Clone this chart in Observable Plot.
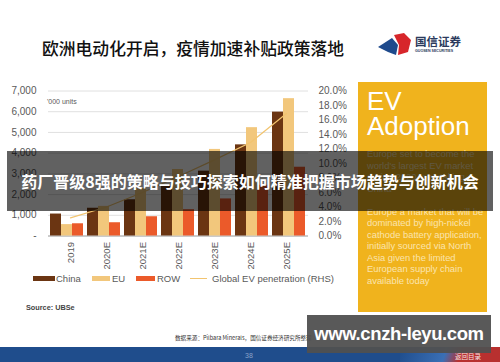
<!DOCTYPE html>
<html><head><meta charset="utf-8">
<script src="https://cdn.jsdelivr.net/npm/d3@7"></script>
<script src="https://cdn.jsdelivr.net/npm/@observablehq/plot@0.6"></script>
<style>
html,body{margin:0;padding:0;width:500px;height:362px;overflow:hidden;background:#fff;}
#slide{position:relative;width:500px;height:362px;font-family:"Liberation Sans",Arial,sans-serif;overflow:hidden;}
.abs{position:absolute;white-space:nowrap;}
#chart svg{position:absolute;left:0;top:0;}
.sw{position:absolute;height:5px;}
.lg{position:absolute;font-size:9.5px;color:#595959;line-height:12px;}
</style></head>
<body><div id="slide">
  <div class="abs" style="left:42px;top:37px;font-family:'Noto Sans CJK SC';font-weight:500;font-size:16.8px;line-height:22px;color:#111;">欧洲电动化开启，疫情加速补贴政策落地</div>
  <svg class="abs" style="left:376px;top:31px" width="40" height="28">
    <polygon points="2,16 16,7 22,14 20,24 12,21" fill="#1e4a8c"/>
    <polygon points="18,4 28,2 35,9 32,21 22,24 23,14" fill="#d7262b"/>
  </svg>
  <div class="abs" style="left:415px;top:34px;font-family:'Noto Sans CJK SC';font-weight:700;font-size:11.5px;line-height:15px;color:#2b3a5c;">国信证券</div>
  <div class="abs" style="left:415px;top:49px;font-size:3.6px;font-weight:bold;line-height:5px;color:#2b3a5c;">GUOSEN SECURITIES</div>

  <div id="chart" class="abs" style="left:0;top:80px;width:345px;height:190px;"></div>
  <div class="abs" style="left:47px;top:98px;font-size:7px;line-height:8px;color:#595959;">'000 units</div>

  <div class="sw" style="left:33px;top:276px;width:22px;background:#6b3512"></div>
  <div class="lg" style="left:56px;top:272.5px">China</div>
  <div class="sw" style="left:92px;top:276px;width:18px;background:#f2c77c"></div>
  <div class="lg" style="left:112px;top:272.5px">EU</div>
  <div class="sw" style="left:136px;top:276px;width:19px;background:#eb5a2a"></div>
  <div class="lg" style="left:157px;top:272.5px">ROW</div>
  <div class="abs" style="left:190px;top:278px;width:17px;height:1px;background:#f2c46f"></div>
  <div class="lg" style="left:212px;top:272.5px">Global EV penetration (RHS)</div>

  <div class="abs" style="left:26px;top:303px;font-size:7.3px;font-weight:bold;line-height:10px;color:#444;">Source: UBSe</div>

  <div class="abs" style="left:358px;top:82px;width:129px;height:230px;background:#f0b31d;"></div>
  <div class="abs" style="left:367px;top:88px;font-size:26px;line-height:26px;color:#fff;">EV</div>
  <div class="abs" style="left:367px;top:113px;font-size:26px;line-height:26px;color:#fff;">Adoption</div>
  <div class="abs" style="left:367px;top:148px;font-size:9.4px;line-height:11.5px;color:#fbe4ad;">Europe set to become the<br>world's largest EV market<br>during 2020, overtaking<br>China<br><br>Europe a market that will be<br>dominated by high-nickel<br>cathode battery application,<br>initially sourced via North<br>Asia given the limited<br>European supply chain<br>available today</div>

  <div class="abs" style="left:175px;top:334px;font-family:'Noto Sans CJK SC';font-size:5.6px;line-height:8px;color:#333;">数据来源：Pilbara Minerals，国信证券经济研究所整理</div>
  <div class="abs" style="left:0;top:347px;width:500px;height:15px;background:#1f4d8c;"></div>
  <div class="abs" style="left:400px;top:347px;width:100px;height:15px;background:linear-gradient(110deg,#1f4d8c 0%,#3a6fb5 45%,#b8302f 60%,#b8302f 100%);"></div>
  <div class="abs" style="left:245px;top:351px;font-size:7px;line-height:9px;color:#8aa3c9;">38</div>
  <div class="abs" style="left:455px;top:352px;font-family:'Noto Sans CJK SC';font-size:6.5px;line-height:9px;color:#f3e6e6;">返回目录</div>

  <div class="abs" style="left:7px;top:151px;width:486px;height:60px;background:rgba(0,0,0,0.62);"></div>
  <div class="abs" style="left:0;top:151px;width:500px;height:60px;line-height:60px;text-align:center;font-family:'Noto Sans CJK SC';font-weight:700;font-size:16px;color:#fff;">药厂晋级8强的策略与技巧探索如何精准把握市场趋势与创新机会</div>

  <div class="abs" style="left:307px;top:315px;width:184px;height:38px;background:rgba(80,80,80,0.95);"></div>
  <div class="abs" style="left:307px;top:315px;width:184px;height:38px;line-height:38px;text-align:center;font-weight:bold;font-size:18.5px;letter-spacing:-0.4px;color:#fff;">www.cnzh-leyu.com</div>
</div>
<script>
const years = ["2019","2020E","2021E","2022E","2023E","2024E","2025E"];
const seriesNames = ["China","EU","ROW"];
const china = [1060,1340,1750,2400,3130,4400,5980];
const eu = [550,1430,2300,3210,4180,5230,6630];
const row = [590,640,930,1270,1790,2450,3320];
const penetration = [2.5,4.0,6.0,8.2,10.5,12.9,16.9];
const unitTicks = [0,1000,2000,3000,4000,5000,6000,7000];
const pctTicks = [0,2,4,6,8,10,12,14,16,18,20];
const seriesColors = ["#6b3512","#f2c77c","#eb5a2a"];

const barData = years.flatMap((yr,i)=>[
  {year:yr, series:"China", value:china[i]},
  {year:yr, series:"EU", value:eu[i]},
  {year:yr, series:"ROW", value:row[i]}
]);
const lineData = years.map((yr,i)=>({year:yr, pct:penetration[i]}));

const common = {
  width:345, height:190, marginLeft:48, marginRight:37, marginTop:10.5, marginBottom:34.5,
  style:{fontFamily:'"Liberation Sans", Arial, sans-serif', fontSize:"10px", color:"#595959", background:"transparent", overflow:"visible"}
};
const chart = document.getElementById("chart");

const base = Plot.plot({
  ...common,
  x:{type:"band", domain:years, padding:0.1, label:null},
  y:{domain:[0,7000], label:null},
  marks:[
    Plot.gridY(unitTicks, {stroke:"#e0e0e0", strokeOpacity:1}),
    Plot.axisY(unitTicks, {anchor:"left", tickSize:0, tickPadding:12, label:null,
      tickFormat: d => d === 0 ? "-" : d3.format(",")(d)}),
    Plot.axisX({anchor:"bottom", tickSize:0, tickPadding:6, tickRotate:-90, label:null, fontSize:9.5}),
    Plot.ruleY([0], {stroke:"#a6a6a6"})
  ]
});
chart.appendChild(base);

const bars = Plot.plot({
  ...common,
  fx:{domain:years, padding:0.1, axis:null, label:null},
  x:{domain:seriesNames, padding:0, axis:null},
  y:{domain:[0,7000], axis:null},
  color:{domain:seriesNames, range:seriesColors},
  marks:[
    Plot.barY(barData, {fx:"year", x:"series", y:"value", fill:"series"})
  ]
});
chart.appendChild(bars);

const line = Plot.plot({
  ...common,
  x:{type:"band", domain:years, padding:0.1, axis:null},
  y:{domain:[0,20], label:null},
  marks:[
    Plot.axisY(pctTicks, {anchor:"right", tickSize:0, tickPadding:10, label:null,
      tickFormat: d => d.toFixed(1) + "%"}),
    Plot.lineY(lineData, {x:"year", y:"pct", stroke:"#f2c46f", strokeWidth:1.2})
  ]
});
chart.appendChild(line);
</script>
</body></html>
